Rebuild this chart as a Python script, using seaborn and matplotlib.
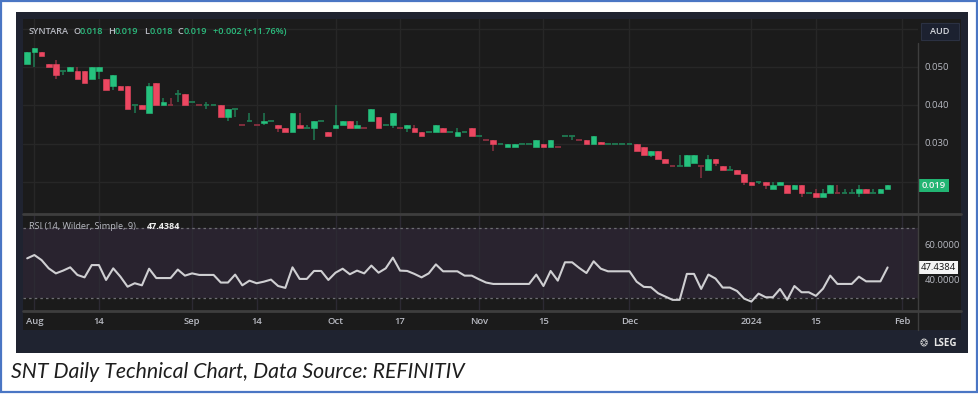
import numpy as np
import pandas as pd
import matplotlib
matplotlib.use("Agg")
import matplotlib.pyplot as plt
from matplotlib.patches import Rectangle
from matplotlib.lines import Line2D
import seaborn as sns

# ---------------- data ----------------
opens = [0.051, 0.054, 0.054, 0.051, 0.051, 0.049, 0.049, 0.049, 0.049, 0.047,
         0.049, 0.047, 0.045, 0.045, 0.045, 0.040, 0.040, 0.038, 0.046, 0.040,
         0.040, 0.043, 0.043, 0.041, 0.040, 0.040, 0.040, 0.040, 0.037, 0.039,
         0.035, 0.036, 0.035, 0.0355, 0.036, 0.035, 0.034, 0.033, 0.035, 0.034,
         0.034, 0.036, 0.033, 0.034, 0.035, 0.036, 0.034, 0.034, 0.036, 0.037,
         0.035, 0.035, 0.034, 0.034, 0.034, 0.033, 0.033, 0.033, 0.034, 0.033,
         0.032, 0.033, 0.034, 0.032, 0.031, 0.031, 0.030, 0.029, 0.029, 0.030,
         0.030, 0.029, 0.030, 0.029, 0.029, 0.032, 0.032, 0.031, 0.031, 0.030,
         0.0305, 0.030, 0.030, 0.030, 0.030, 0.030, 0.029, 0.027, 0.028, 0.026,
         0.024, 0.024, 0.024, 0.025, 0.024, 0.023, 0.026, 0.024, 0.023, 0.023,
         0.022, 0.020, 0.020, 0.020, 0.018, 0.019, 0.019, 0.018, 0.019, 0.017,
         0.017, 0.016, 0.017, 0.017, 0.017, 0.017, 0.017, 0.018, 0.017, 0.017,
         0.018]
highs = [0.054, 0.055, 0.054, 0.051, 0.052, 0.049, 0.050, 0.050, 0.049, 0.050,
         0.050, 0.047, 0.048, 0.045, 0.045, 0.040, 0.040, 0.046, 0.046, 0.042,
         0.042, 0.044, 0.043, 0.041, 0.040, 0.041, 0.040, 0.040, 0.039, 0.039,
         0.035, 0.038, 0.035, 0.038, 0.036, 0.035, 0.034, 0.038, 0.038, 0.035,
         0.036, 0.036, 0.033, 0.040, 0.036, 0.036, 0.036, 0.034, 0.039, 0.037,
         0.035, 0.038, 0.034, 0.035, 0.035, 0.033, 0.033, 0.035, 0.034, 0.033,
         0.034, 0.033, 0.034, 0.032, 0.031, 0.031, 0.030, 0.030, 0.030, 0.030,
         0.030, 0.031, 0.030, 0.031, 0.029, 0.032, 0.032, 0.031, 0.031, 0.032,
         0.0305, 0.030, 0.030, 0.030, 0.030, 0.030, 0.029, 0.028, 0.028, 0.026,
         0.024, 0.027, 0.027, 0.027, 0.024, 0.027, 0.026, 0.024, 0.024, 0.023,
         0.022, 0.020, 0.020, 0.020, 0.020, 0.020, 0.019, 0.019, 0.019, 0.017,
         0.018, 0.018, 0.019, 0.019, 0.018, 0.018, 0.019, 0.018, 0.018, 0.018,
         0.019]
lows = [0.051, 0.050, 0.053, 0.050, 0.047, 0.048, 0.049, 0.047, 0.046, 0.047,
        0.047, 0.044, 0.044, 0.044, 0.039, 0.038, 0.039, 0.038, 0.040, 0.040,
        0.040, 0.041, 0.040, 0.041, 0.040, 0.039, 0.040, 0.037, 0.036, 0.037,
        0.035, 0.036, 0.035, 0.035, 0.036, 0.033, 0.033, 0.033, 0.034, 0.034,
        0.031, 0.036, 0.032, 0.034, 0.035, 0.034, 0.034, 0.034, 0.036, 0.034,
        0.035, 0.034, 0.034, 0.033, 0.033, 0.032, 0.033, 0.033, 0.033, 0.033,
        0.032, 0.033, 0.032, 0.032, 0.031, 0.028, 0.030, 0.029, 0.029, 0.030,
        0.030, 0.029, 0.029, 0.029, 0.029, 0.032, 0.031, 0.031, 0.030, 0.030,
        0.030, 0.030, 0.030, 0.030, 0.030, 0.028, 0.027, 0.0265, 0.026, 0.025,
        0.024, 0.024, 0.024, 0.025, 0.021, 0.023, 0.024, 0.023, 0.023, 0.022,
        0.019, 0.019, 0.0195, 0.018, 0.018, 0.019, 0.017, 0.018, 0.016, 0.017,
        0.016, 0.016, 0.017, 0.017, 0.017, 0.017, 0.016, 0.017, 0.017, 0.017,
        0.018]
closes = [0.054, 0.055, 0.053, 0.050, 0.048, 0.049, 0.050, 0.047, 0.046, 0.050,
          0.050, 0.044, 0.048, 0.044, 0.039, 0.040, 0.039, 0.045, 0.040, 0.041,
          0.040, 0.043, 0.040, 0.041, 0.040, 0.040, 0.040, 0.037, 0.039, 0.039,
          0.035, 0.036, 0.035, 0.036, 0.036, 0.034, 0.033, 0.038, 0.034, 0.034,
          0.036, 0.036, 0.032, 0.035, 0.036, 0.034, 0.035, 0.034, 0.039, 0.034,
          0.035, 0.038, 0.034, 0.035, 0.033, 0.032, 0.033, 0.035, 0.033, 0.033,
          0.033, 0.033, 0.032, 0.032, 0.031, 0.030, 0.030, 0.030, 0.030, 0.030,
          0.030, 0.031, 0.029, 0.031, 0.029, 0.032, 0.032, 0.031, 0.030, 0.032,
          0.030, 0.030, 0.030, 0.030, 0.030, 0.028, 0.027, 0.028, 0.026, 0.025,
          0.024, 0.024, 0.027, 0.027, 0.024, 0.026, 0.025, 0.023, 0.023, 0.022,
          0.020, 0.019, 0.020, 0.019, 0.019, 0.020, 0.017, 0.019, 0.017, 0.017,
          0.016, 0.017, 0.019, 0.017, 0.017, 0.017, 0.018, 0.017, 0.017, 0.018,
          0.019]
rsi = [52.7, 54.6, 51.7, 46.9, 44.0, 45.6, 47.5, 43.1, 41.7, 48.8,
       48.8, 40.2, 46.9, 42.1, 36.3, 38.3, 37.1, 46.7, 41.3, 41.3,
       41.3, 46.2, 42.7, 44.0, 43.1, 43.1, 43.1, 38.7, 38.7, 43.3,
       37.1, 39.8, 38.3, 39.2, 40.4, 36.7, 35.6, 47.5, 40.8, 40.8,
       45.4, 45.4, 40.2, 44.4, 46.7, 43.5, 45.6, 44.0, 48.5, 44.4,
       46.9, 53.1, 45.6, 45.4, 43.7, 41.7, 44.0, 49.2, 45.2, 45.2,
       45.2, 42.7, 42.7, 40.6, 38.7, 37.9, 37.9, 37.9, 37.9, 37.9,
       37.9, 43.3, 36.7, 45.4, 39.8, 50.4, 50.4, 47.1, 44.2, 51.0,
       46.7, 45.2, 45.2, 45.2, 45.2, 39.2, 36.2, 36.0, 32.5, 30.6,
       28.7, 28.7, 43.7, 43.7, 35.0, 43.3, 41.0, 35.8, 35.8, 33.8,
       29.4, 27.7, 32.3, 30.2, 30.2, 35.0, 28.7, 36.7, 33.1, 33.1,
       31.0, 35.2, 42.7, 37.9, 37.9, 37.9, 42.1, 39.4, 39.4, 39.4,
       47.4384]
date_labels = ["Aug", "14", "Sep", "14", "Oct", "17", "Nov", "15", "Dec", "2024", "15", "Feb"]
date_label_bar = [1, 10, 23, 32, 43, 52, 63, 72, 84, 101, 110, 122]
price_ticks = [0.030, 0.040, 0.050]
price_grid = [0.020, 0.030, 0.040, 0.050, 0.060]
rsi_ticks = [40, 60]
rsi_band = (30, 70)
header_symbol = "SYNTARA"
last_price = 0.019
last_rsi = 47.4384

# ---------------- styling ----------------
W, H = 979, 394
BG = "#1b1b1b"
FRAME = "#1f2330"
GRID = "#272727"
UP = "#25c27e"
DOWN = "#ec4761"
UP_W = "#1f7a52"
DOWN_W = "#8a3040"
TXT = "#b8bac2"

sns.set_theme(style="dark", rc={"axes.facecolor": BG, "figure.facecolor": "white"})
plt.rcParams["font.family"] = ["Open Sans", "DejaVu Sans"]

fig = plt.figure(figsize=(W / 100, H / 100), dpi=100)


def fx(x):
    return x / W


def fy(y):
    return 1 - y / H


def prect(x0, y0, x1, y1, zorder=-5, **kw):
    fig.patches.append(Rectangle((fx(x0), fy(y1)), fx(x1) - fx(x0), fy(y0) - fy(y1),
                                 transform=fig.transFigure, zorder=zorder, **kw))


def pline(xs, ys, **kw):
    fig.lines.append(Line2D([fx(x) for x in xs], [fy(y) for y in ys],
                            transform=fig.transFigure, zorder=5, **kw))


def ptext(x, y, s, **kw):
    kw.setdefault("va", "center")
    kw.setdefault("ha", "left")
    return fig.text(fx(x), fy(y), s, zorder=10, **kw)


# outer blue frame + dark panel
prect(1.2, 1.2, 976.5, 392.3, facecolor="white", edgecolor="#4a76c4", lw=1.6, zorder=-8)
prect(16, 12, 968, 353, facecolor=FRAME, edgecolor="none", zorder=-7)
prect(23, 19, 961, 330, facecolor=BG, edgecolor="none", zorder=-6)

n = len(closes)
idx = np.arange(n)
X0, XPX = 27.2, 7.17           # centre of first bar and bar spacing in px
xl = ((23.3 - X0) / XPX, (918 - X0) / XPX)

# ---------------- price pane ----------------
ax = fig.add_axes([fx(23.3), fy(213), fx(918) - fx(23.3), (213 - 19) / H])
ax.set_facecolor(BG)
ax.set_xlim(*xl)
p_per_px = 0.010 / 38.0
ax.set_ylim(0.020 - (213 - 181.7) * p_per_px, 0.050 + (67.3 - 19) * p_per_px)
for g in price_grid:
    ax.axhline(g, color=GRID, lw=1, zorder=0)
for b in date_label_bar:
    ax.axvline(b, color=GRID, lw=1, zorder=0)

prev = None
for i in idx:
    o, h, l, c = opens[i], highs[i], lows[i], closes[i]
    if c > o:
        up = True
    elif c < o:
        up = False
    else:
        up = prev is None or c >= prev
    prev = c
    body_c = UP if up else DOWN
    wick_c = UP_W if up else DOWN_W
    ax.vlines(i, l, h, color=wick_c, lw=1.1, zorder=2)
    if abs(c - o) < 1e-9:
        ax.hlines(o, i - 0.4, i + 0.4, color=wick_c, lw=1.3, zorder=3)
    else:
        ax.bar(i, abs(c - o), bottom=min(o, c), width=0.8, color=body_c,
               edgecolor=body_c, lw=0.4, zorder=3)
ax.set_xticks([])
ax.set_yticks([])
for s in ax.spines.values():
    s.set_visible(False)

# ---------------- RSI pane ----------------
ax2 = fig.add_axes([fx(23.3), fy(310), fx(918) - fx(23.3), (310 - 214) / H])
ax2.set_facecolor(BG)
ax2.set_xlim(*xl)
r_per_px = 20 / (280.3 - 245.7)
ax2.set_ylim(40 - (310 - 280.3) * r_per_px, 60 + (245.7 - 214) * r_per_px)
ax2.axhspan(rsi_band[0], rsi_band[1], color="#29232f", zorder=0, lw=0)
for b in date_label_bar:
    ax2.axvline(b, color="#2c2a33", lw=1, zorder=0.5)
for lv in rsi_band:
    ax2.axhline(lv, color="#6d6d72", lw=0.9, ls=(0, (2, 2.5)), zorder=1)
df = pd.DataFrame({"bar": idx, "rsi": rsi})
sns.lineplot(data=df, x="bar", y="rsi", ax=ax2, color="#cfcfd2", lw=1.5, zorder=3)
ax2.set_xlabel("")
ax2.set_ylabel("")
ax2.set_xticks([])
ax2.set_yticks([])
for s in ax2.spines.values():
    s.set_visible(False)

# separators / axis line
pline([23, 961], [213.5, 213.5], color="#3e3e3e", lw=2)
pline([23, 961], [310.5, 310.5], color="#3e3e3e", lw=2)
pline([918.5, 918.5], [43, 330], color="#3e3e3e", lw=1)

# ---------------- header ----------------
FS = 6.6
GREEN_T = "#2bbd7e"
ptext(29, 31, header_symbol, color=TXT, fontsize=FS, fontweight="semibold")
parts = [(73, "O", TXT), (80, "0.018", GREEN_T), (108, "H", TXT), (115, "0.019", GREEN_T),
         (144, "L", TXT), (150, "0.018", GREEN_T), (178, "C", TXT), (184, "0.019", GREEN_T),
         (213, "+0.002 (+11.76%)", GREEN_T)]
for x, s, col in parts:
    ptext(x, 31, s, color=col, fontsize=FS, fontweight="semibold")

# AUD box
prect(921, 23, 959, 40, facecolor="#1c2130", edgecolor="#2b3142", lw=0.8, zorder=1)
ptext(940, 31.5, "AUD", color="#d8dae0", fontsize=6.6, ha="center", fontweight="semibold")

# price labels
for t in price_ticks:
    ypx = 67.3 + (0.050 - t) / p_per_px
    ptext(925, ypx, f"{t:.3f}", color=TXT, fontsize=6.8)
ylp = 67.3 + (0.050 - last_price) / p_per_px
prect(918, ylp - 6.5, 949, ylp + 6.5, facecolor="#22b573", edgecolor="none", zorder=1)
ptext(933.5, ylp, f"{last_price:.3f}", color="#f2f2f2", fontsize=6.8, ha="center",
      fontweight="semibold")

# RSI labels
ptext(29, 226, "RSI (14, Wilder, Simple, 9)", color=TXT, fontsize=FS)
ptext(147, 226, f"{last_rsi:.4f}", color="#f0f0f0", fontsize=FS, fontweight="bold")
for t in rsi_ticks:
    ypx = 245.7 + (60 - t) / r_per_px
    ptext(925, ypx, f"{t:.4f}", color=TXT, fontsize=6.8)
ylr = 245.7 + (60 - last_rsi) / r_per_px
prect(918, ylr - 6.5, 958, ylr + 6.5, facecolor="#f4f4f4", edgecolor="none", zorder=1)
ptext(938, ylr, f"{last_rsi:.4f}", color="#111111", fontsize=6.8, ha="center")

# date labels
for b, s in zip(date_label_bar, date_labels):
    ptext(X0 + b * XPX, 321, s, color=TXT, fontsize=6.8, ha="center", fontweight="semibold")

# LSEG mark
ptext(920, 343, "\u2742", color="#d0d0d0", fontsize=7, family=["DejaVu Sans"])
ptext(933, 343, "LSEG", color="#e6e6e6", fontsize=7, fontweight="bold")

# caption
ptext(11, 372, "SNT Daily Technical Chart, Data Source: REFINITIV", color="#1e1e1e",
      fontsize=15.3, style="italic", family=["Lato", "DejaVu Sans"])

fig.savefig("out.png", dpi=100)
